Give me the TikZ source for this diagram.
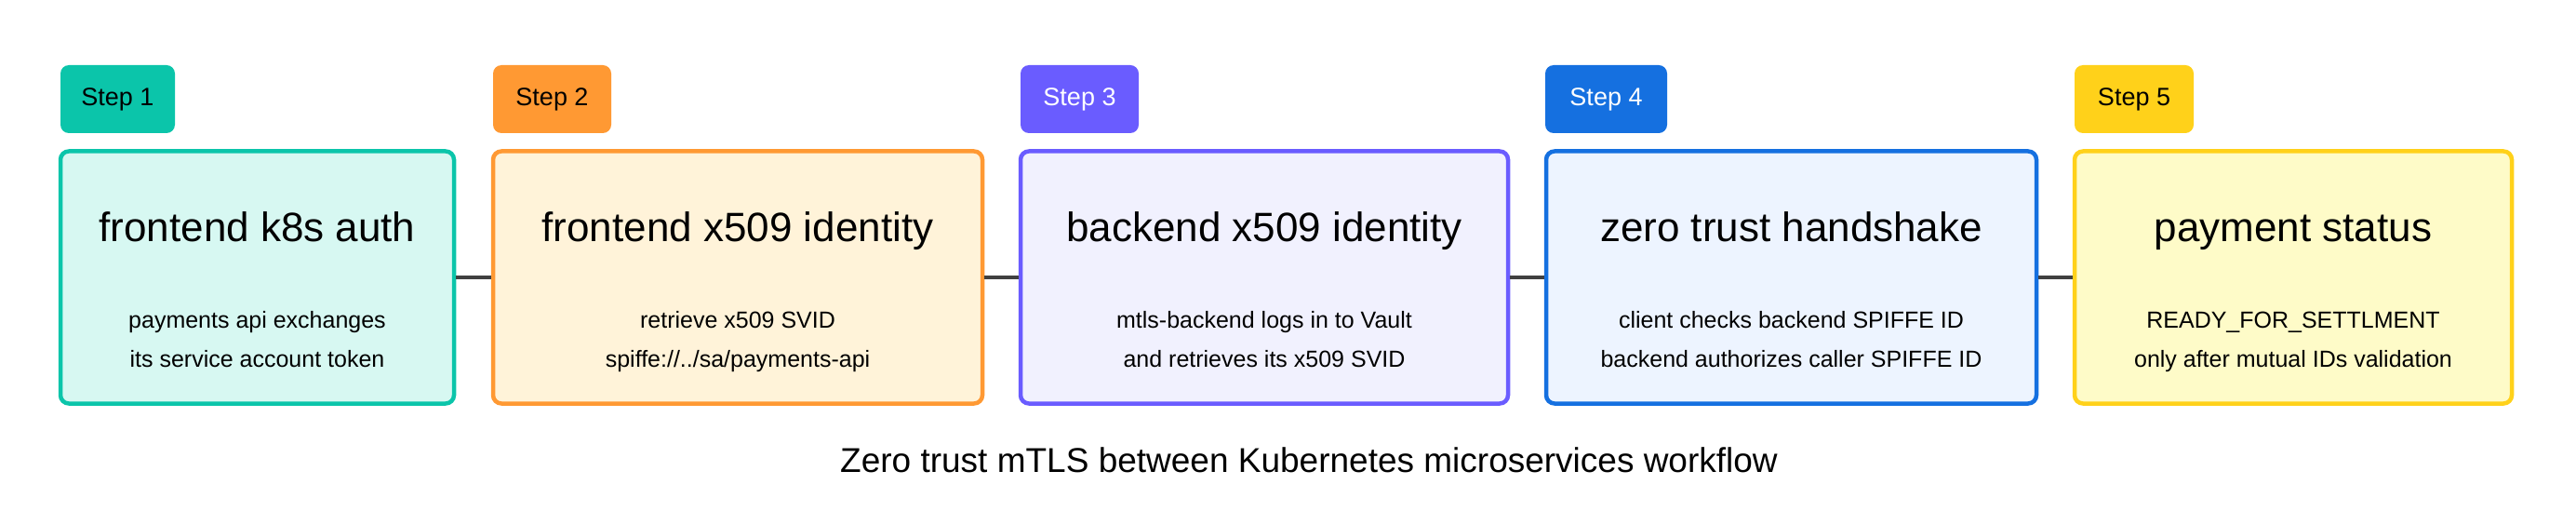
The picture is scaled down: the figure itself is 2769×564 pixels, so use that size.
\documentclass[tikz,border=0pt]{standalone}
\usepackage{fontspec}
\setmainfont{Liberation Sans}
\begin{document}
\begin{tikzpicture}[x=1pt,y=-1pt,
  card/.style={draw=#1, line width=4.5pt, rounded corners=9pt, inner sep=0pt},
  badge/.style={fill=#1, rounded corners=9pt, inner sep=0pt, minimum height=73pt, font=\fontsize{27}{32}\selectfont},
  ttl/.style={font=\fontsize{44}{52}\selectfont, anchor=base},
  sub/.style={font=\fontsize{25}{30}\selectfont, anchor=base},
  link/.style={draw=black!75, line width=4pt}]
\useasboundingbox (0,0) rectangle (2769,564);
\definecolor{c1}{HTML}{0BC5AA}\definecolor{f1}{HTML}{D7F8F2}
\definecolor{c2}{HTML}{FF9933}\definecolor{f2}{HTML}{FFF3D9}
\definecolor{c3}{HTML}{6A5CFF}\definecolor{f3}{HTML}{F1F1FE}
\definecolor{c4}{HTML}{1570E0}\definecolor{f4}{HTML}{EDF4FF}
\definecolor{c5}{HTML}{FFD11A}\definecolor{f5}{HTML}{FEFBC8}
% connectors
\foreach \a/\b in {65/488,530/1056,1097/1621,1662/2189,2230/2700}{}
\node[card=c1, fill=f1, minimum width=423pt, minimum height=271pt] (b1) at (276.5,298) {};
\node[card=c2, fill=f2, minimum width=526pt, minimum height=271pt] (b2) at (793,298) {};
\node[card=c3, fill=f3, minimum width=524pt, minimum height=271pt] (b3) at (1359,298) {};
\node[card=c4, fill=f4, minimum width=527pt, minimum height=271pt] (b4) at (1925.5,298) {};
\node[card=c5, fill=f5, minimum width=470pt, minimum height=271pt] (b5) at (2465,298) {};
\draw[link] (b1.east) -- (b2.west);
\draw[link] (b2.east) -- (b3.west);
\draw[link] (b3.east) -- (b4.west);
\draw[link] (b4.east) -- (b5.west);
\node[badge=c1, minimum width=123pt] (s1) at (126.5,106.5) {Step 1};
\node[badge=c2, minimum width=127pt] (s2) at (593.5,106.5) {Step 2};
\node[badge=c3, minimum width=127pt, text=white] (s3) at (1160.5,106.5) {Step 3};
\node[badge=c4, minimum width=131pt, text=white] (s4) at (1726.5,106.5) {Step 4};
\node[badge=c5, minimum width=128pt] (s5) at (2294,106.5) {Step 5};
\node[ttl] (t1) at (276.5,260) {frontend k8s auth};
\node[ttl] (t2) at (793,260) {frontend x509 identity};
\node[ttl] (t3) at (1359,260) {backend x509 identity};
\node[ttl] (t4) at (1925.5,260) {zero trust handshake};
\node[ttl] (t5) at (2465,260) {payment status};
\node[sub] (a1) at (276.5,352) {payments api exchanges};
\node[sub] (c1t) at (276.5,394) {its service account token};
\node[sub] (a2) at (793,352) {retrieve x509 SVID};
\node[sub] (c2t) at (793,394) {spiffe://../sa/payments-api};
\node[sub] (a3) at (1359,352) {mtls-backend logs in to Vault};
\node[sub] (c3t) at (1359,394) {and retrieves its x509 SVID};
\node[sub] (a4) at (1925.5,352) {client checks backend SPIFFE ID};
\node[sub] (c4t) at (1925.5,394) {backend authorizes caller SPIFFE ID};
\node[sub] (a5) at (2465,352) {READY\_FOR\_SETTLMENT};
\node[sub] (c5t) at (2465,394) {only after mutual IDs validation};
\node[font=\fontsize{37}{44}\selectfont, anchor=base] (cap) at (1407,507) {Zero trust mTLS between Kubernetes microservices workflow};
\end{tikzpicture}
\end{document}
